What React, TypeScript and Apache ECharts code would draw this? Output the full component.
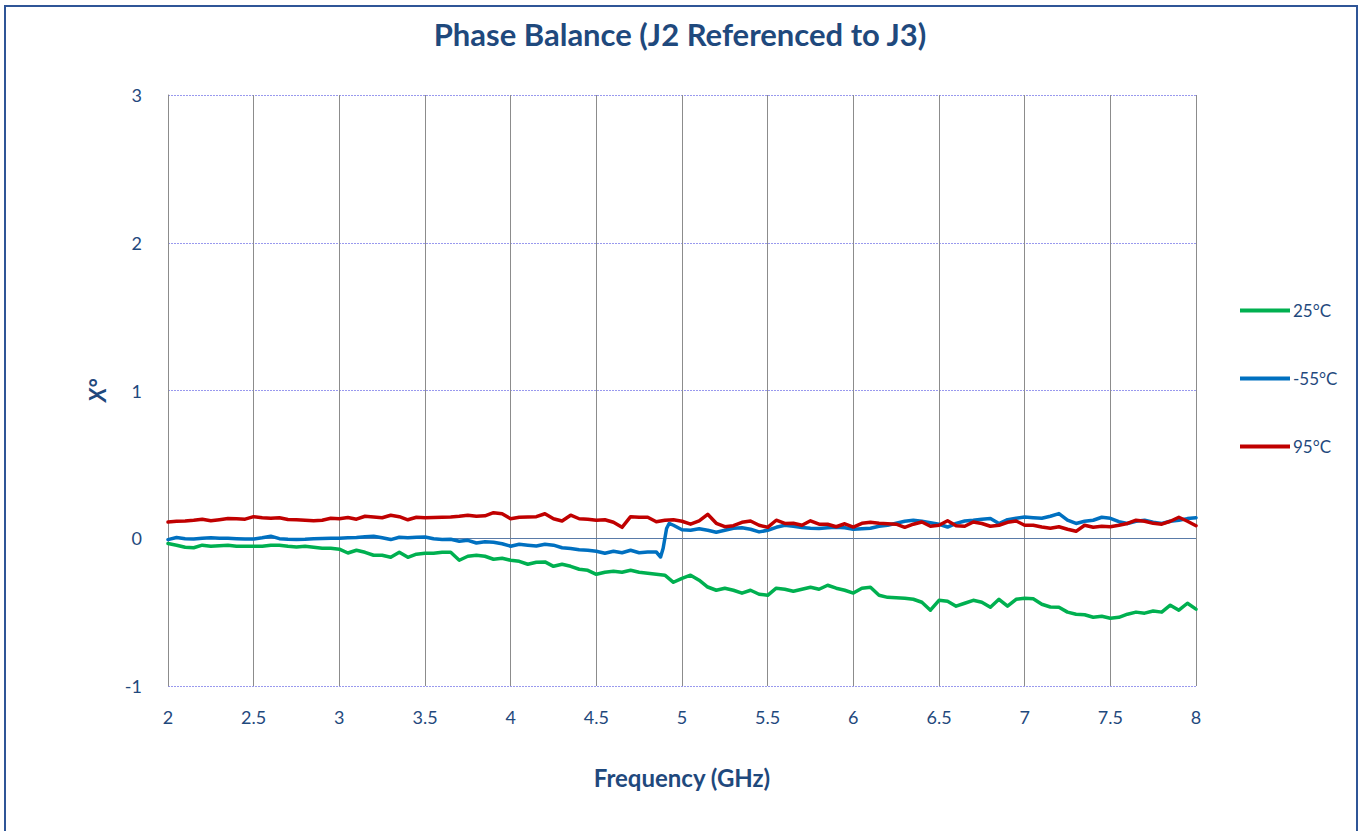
import React, { useEffect, useRef } from "react";
import * as echarts from "echarts";

const TITLE = "Phase Balance (J2 Referenced to J3)";
const X_NAME = "Frequency (GHz)";
const Y_NAME = "X°";
const SERIES_NAMES = ["25°C", "-55°C", "95°C"];
const COLORS = ["#00B050", "#0070C0", "#C00000"];

// common frequency grid (GHz), 0.05 step from 2 to 8
const freqs: number[] = Array.from({ length: 121 }, (_, i) => Math.round((2 + i * 0.05) * 100) / 100);

const green25: number[] = [
  -0.036, -0.047, -0.061, -0.064, -0.047, -0.054, -0.051, -0.047, -0.054, -0.054,
  -0.054, -0.054, -0.047, -0.047, -0.054, -0.059, -0.054, -0.061, -0.068, -0.068,
  -0.074, -0.1, -0.081, -0.095, -0.115, -0.115, -0.129, -0.095, -0.129, -0.108,
  -0.101, -0.101, -0.095, -0.095, -0.149, -0.122, -0.115, -0.122, -0.142, -0.135,
  -0.149, -0.156, -0.176, -0.162, -0.16, -0.19, -0.176, -0.19, -0.21, -0.217,
  -0.244, -0.23, -0.223, -0.23, -0.217, -0.23, -0.237, -0.244, -0.25, -0.298,
  -0.271, -0.25, -0.284, -0.33, -0.352, -0.338, -0.352, -0.372, -0.352, -0.379,
  -0.386, -0.338, -0.345, -0.359, -0.345, -0.332, -0.345, -0.318, -0.338, -0.352,
  -0.371, -0.338, -0.332, -0.386, -0.4, -0.403, -0.406, -0.413, -0.433, -0.487,
  -0.42, -0.426, -0.46, -0.44, -0.42, -0.433, -0.467, -0.413, -0.46, -0.413,
  -0.406, -0.41, -0.447, -0.465, -0.467, -0.5, -0.514, -0.518, -0.535, -0.528,
  -0.541, -0.535, -0.514, -0.5, -0.507, -0.492, -0.5, -0.453, -0.487, -0.44,
  -0.48,
];

const blueFreqs: number[] = [
  2.0, 2.05, 2.1, 2.15, 2.2, 2.25, 2.3, 2.35, 2.4, 2.45,
  2.5, 2.55, 2.6, 2.65, 2.7, 2.75, 2.8, 2.85, 2.9, 2.95,
  3.0, 3.05, 3.1, 3.15, 3.2, 3.25, 3.3, 3.35, 3.4, 3.45,
  3.5, 3.55, 3.6, 3.65, 3.7, 3.75, 3.8, 3.85, 3.9, 3.95,
  4.0, 4.05, 4.1, 4.15, 4.2, 4.25, 4.3, 4.35, 4.4, 4.45,
  4.5, 4.55, 4.6, 4.65, 4.7, 4.75, 4.8, 4.85, 4.875, 4.89,
  4.91, 4.925, 4.95, 5.0, 5.05, 5.1, 5.15, 5.2, 5.25, 5.3,
  5.35, 5.4, 5.45, 5.5, 5.55, 5.6, 5.65, 5.7, 5.75, 5.8,
  5.85, 5.9, 5.95, 6.0, 6.05, 6.1, 6.15, 6.2, 6.25, 6.3,
  6.35, 6.4, 6.45, 6.5, 6.55, 6.6, 6.65, 6.7, 6.75, 6.8,
  6.85, 6.9, 6.95, 7.0, 7.05, 7.1, 7.15, 7.2, 7.25, 7.3,
  7.35, 7.4, 7.45, 7.5, 7.55, 7.6, 7.65, 7.7, 7.75, 7.8,
  7.85, 7.9, 7.95, 8.0,
];

const blueM55: number[] = [
  -0.009, 0.005, -0.003, -0.005, 0, 0.003, 0, 0, -0.003, -0.005,
  -0.005, 0.003, 0.014, -0.003, -0.007, -0.009, -0.007, -0.003, -0.002, 0,
  0, 0.003, 0.005, 0.01, 0.014, 0.003, -0.009, 0.007, 0.003, 0.007,
  0.009, -0.003, -0.009, -0.007, -0.02, -0.014, -0.032, -0.024, -0.027, -0.037,
  -0.054, -0.041, -0.047, -0.052, -0.041, -0.047, -0.064, -0.07, -0.078, -0.081,
  -0.088, -0.102, -0.088, -0.098, -0.081, -0.098, -0.093, -0.093, -0.127, -0.068,
  0.066, 0.1, 0.088, 0.058, 0.054, 0.064, 0.054, 0.041, 0.054, 0.068,
  0.071, 0.061, 0.043, 0.054, 0.074, 0.088, 0.081, 0.072, 0.068, 0.066,
  0.071, 0.074, 0.071, 0.061, 0.064, 0.068, 0.081, 0.088, 0.101, 0.115,
  0.122, 0.115, 0.105, 0.095, 0.076, 0.101, 0.117, 0.122, 0.129, 0.133,
  0.1, 0.126, 0.135, 0.144, 0.139, 0.135, 0.149, 0.167, 0.122, 0.1,
  0.115, 0.122, 0.142, 0.135, 0.112, 0.1, 0.115, 0.122, 0.108, 0.1,
  0.115, 0.122, 0.133, 0.139,
];

const red95: number[] = [
  0.11, 0.115, 0.117, 0.122, 0.129, 0.118, 0.125, 0.133, 0.132, 0.129,
  0.146, 0.139, 0.135, 0.139, 0.127, 0.125, 0.122, 0.118, 0.122, 0.135,
  0.132, 0.14, 0.129, 0.149, 0.144, 0.139, 0.156, 0.146, 0.125, 0.142,
  0.139, 0.14, 0.142, 0.144, 0.149, 0.156, 0.149, 0.152, 0.173, 0.166,
  0.132, 0.142, 0.144, 0.146, 0.166, 0.132, 0.117, 0.156, 0.132, 0.129,
  0.122, 0.125, 0.108, 0.074, 0.146, 0.142, 0.142, 0.112, 0.122, 0.125,
  0.115, 0.095, 0.118, 0.162, 0.101, 0.078, 0.085, 0.108, 0.117, 0.088,
  0.074, 0.122, 0.1, 0.101, 0.088, 0.118, 0.095, 0.095, 0.078, 0.098,
  0.076, 0.101, 0.108, 0.101, 0.098, 0.095, 0.074, 0.095, 0.11, 0.081,
  0.088, 0.118, 0.085, 0.081, 0.11, 0.1, 0.081, 0.088, 0.108, 0.117,
  0.088, 0.088, 0.076, 0.068, 0.078, 0.061, 0.047, 0.088, 0.074, 0.081,
  0.078, 0.088, 0.1, 0.122, 0.115, 0.101, 0.095, 0.115, 0.142, 0.115,
  0.085,
];

const X_TICKS = { min: 2, max: 8, interval: 0.5 };
const Y_TICKS = { min: -1, max: 3, interval: 1 };

const TEXT_COLOR = "#1F497D";
const FONT = "Lato, 'Open Sans', sans-serif";

function pairs(xs: number[], ys: number[]) {
  return xs.map((x, i) => [x, ys[i]]);
}

export default function App() {
  const ref = useRef<HTMLDivElement>(null);
  useEffect(() => {
    if (!ref.current) return;
    const chart = echarts.init(ref.current, undefined, { renderer: "svg" });
    const datasets = [pairs(freqs, green25), pairs(blueFreqs, blueM55), pairs(freqs, red95)];
    chart.setOption({
      animation: false,
      backgroundColor: "#ffffff",
      textStyle: { fontFamily: FONT },
      title: {
        text: TITLE,
        left: "center",
        top: 13,
        textStyle: { color: TEXT_COLOR, fontSize: 31, fontWeight: "bold", fontFamily: FONT },
      },
      graphic: [
        {
          type: "rect",
          shape: { x: 5, y: 6, width: 1352, height: 900 },
          style: { fill: "none", stroke: "#2F5597", lineWidth: 2 },
          silent: true,
          z: -1,
        },
      ],
      legend: {
        orient: "vertical",
        left: 1235,
        top: 297,
        itemWidth: 50,
        itemHeight: 14,
        itemGap: 51,
        textStyle: { color: TEXT_COLOR, fontSize: 17, fontFamily: FONT, padding: [0, 0, 0, -2] },
        data: SERIES_NAMES.map((n, i) => ({
          name: n,
          icon: "path://M0,6 L50,6 L50,10 L0,10 Z",
          itemStyle: { color: COLORS[i] },
        })),
      },
      grid: { left: 168, right: 164, top: 95, bottom: 145, containLabel: false },
      xAxis: {
        type: "value",
        min: X_TICKS.min,
        max: X_TICKS.max,
        interval: X_TICKS.interval,
        name: X_NAME,
        nameLocation: "middle",
        nameGap: 79,
        nameTextStyle: { color: TEXT_COLOR, fontSize: 24, fontWeight: "bold", fontFamily: FONT },
        axisLine: { show: false },
        axisTick: { show: false },
        axisLabel: { color: TEXT_COLOR, fontSize: 18, margin: 22, fontFamily: FONT },
        splitLine: { show: true, lineStyle: { color: "#8C8C8C", width: 1 } },
      },
      yAxis: {
        type: "value",
        min: Y_TICKS.min,
        max: Y_TICKS.max,
        interval: Y_TICKS.interval,
        name: Y_NAME,
        nameLocation: "middle",
        nameRotate: 90,
        nameGap: 60,
        nameTextStyle: { color: TEXT_COLOR, fontSize: 22, fontWeight: "bold", fontStyle: "italic", fontFamily: FONT },
        axisLine: { show: true, lineStyle: { color: "#8C8C8C", width: 1 } },
        axisTick: { show: false },
        axisLabel: { color: TEXT_COLOR, fontSize: 18, margin: 26, fontFamily: FONT },
        splitLine: { show: true, lineStyle: { color: "#9999EE", width: 1, type: [2, 1] } },
      },
      series: SERIES_NAMES.map((n, i) => ({
        name: n,
        type: "line",
        data: datasets[i],
        symbol: "none",
        smooth: false,
        lineStyle: { color: COLORS[i], width: 3.5, cap: "round", join: "round" },
        itemStyle: { color: COLORS[i] },
        z: 3 + i,
        markLine:
          i === 0
            ? {
                silent: true,
                symbol: "none",
                label: { show: false },
                lineStyle: { color: "#5A7BA8", width: 1, type: "solid" },
                data: [{ yAxis: 0 }],
                z: 1,
              }
            : undefined,
      })),
    });
    return () => chart.dispose();
  }, []);
  return (
    <div
      ref={ref}
      style={{ position: "fixed", left: 0, top: 0, width: 1360, height: 831 }}
    />
  );
}
